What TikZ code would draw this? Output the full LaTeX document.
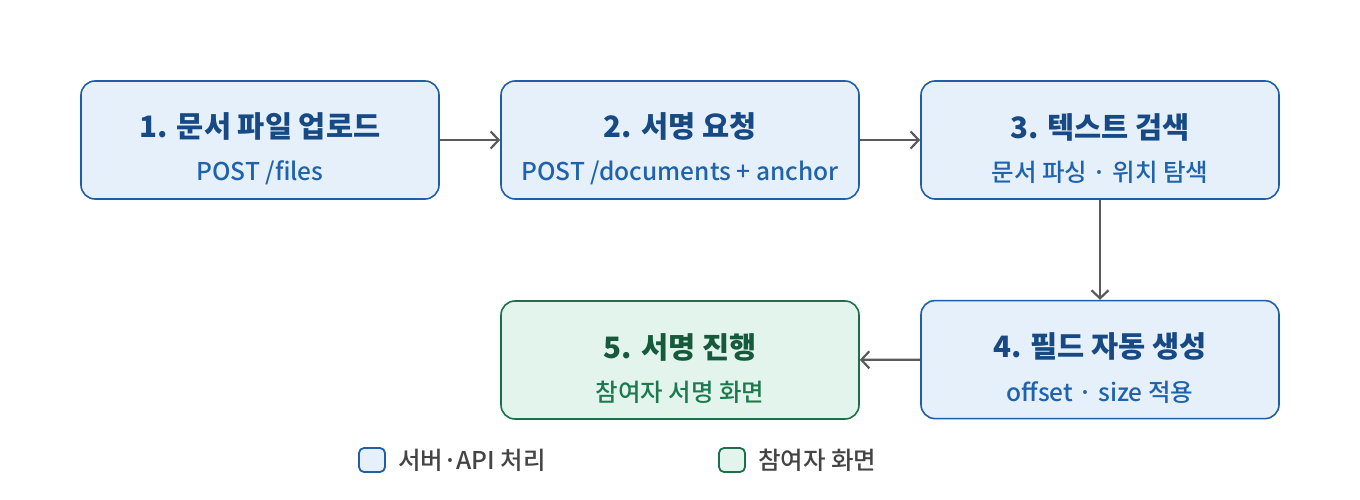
\documentclass[tikz,border=0pt]{standalone}
\usepackage{fontspec}
\setmainfont{Noto Sans CJK KR}
\newfontfamily\medfont{Noto Sans CJK KR Medium}
\usetikzlibrary{arrows.meta,positioning}

\definecolor{srvfill}{HTML}{E6F0FA}
\definecolor{srvline}{HTML}{1F5FA8}
\definecolor{srvtitle}{HTML}{174A85}
\definecolor{srvsub}{HTML}{1F63AD}
\definecolor{usrfill}{HTML}{E2F4EC}
\definecolor{usrline}{HTML}{1C6E4C}
\definecolor{usrtitle}{HTML}{155A3B}
\definecolor{usrsub}{HTML}{1D7A4E}
\definecolor{flowgray}{HTML}{5A5A5A}
\definecolor{legendtext}{HTML}{444444}

\tikzset{
  stepnode/.style={draw, rounded corners=14pt, line width=1.6pt,
    minimum width=358pt, minimum height=118pt, align=center, inner sep=0pt},
  srvnode/.style={stepnode, fill=srvfill, draw=srvline},
  usrnode/.style={stepnode, fill=usrfill, draw=usrline},
  flow/.style={draw=flowgray, line width=2.2pt,
    -{Straight Barb[length=8pt,width=17pt,line width=2.2pt]}},
  keybox/.style={draw, rounded corners=5pt, line width=1.8pt,
    minimum width=26pt, minimum height=24pt, inner sep=0pt},
  keytext/.style={anchor=west, inner sep=0pt, text=legendtext,
    font=\medfont\fontsize{24.5pt}{28pt}\selectfont}
}
\newcommand{\steptitle}[1]{{\fontsize{29.5pt}{34pt}\selectfont\bfseries\rule{0pt}{42pt}#1}}
\newcommand{\stepsub}[1]{{\medfont\fontsize{24.5pt}{28pt}\selectfont #1}}

\begin{document}
\begin{tikzpicture}[x=1pt,y=-1pt]
			%%%%% START %%%%%
			\useasboundingbox (0,0) rectangle (1360,500);
			
			\node[srvnode] (upload) at (260,140)
			  {\color{srvtitle}\steptitle{1. 문서 파일 업로드}\\[19pt]\color{srvsub}\stepsub{POST /files}};
			\node[srvnode] (request) at (680,140)
			  {\color{srvtitle}\steptitle{2. 서명 요청}\\[19pt]\color{srvsub}\stepsub{POST /documents + anchor}};
			\node[srvnode] (search) at (1100,140)
			  {\color{srvtitle}\steptitle{3. 텍스트 검색}\\[19pt]\color{srvsub}\stepsub{문서 파싱 · 위치 탐색}};
			\node[srvnode, below=100pt of search] (fields)
			  {\color{srvtitle}\steptitle{4. 필드 자동 생성}\\[19pt]\color{srvsub}\stepsub{offset · size 적용}};
			\node[usrnode] (signing) at (680,360)
			  {\color{usrtitle}\steptitle{5. 서명 진행}\\[19pt]\color{usrsub}\stepsub{참여자 서명 화면}};
			
			\draw[flow] (upload) -- (request);
			\draw[flow] (request) -- (search);
			\draw[flow] (search) -- (fields);
			\draw[flow] (fields) -- (signing);
			
			% legend
			\node[keybox, fill=srvfill, draw=srvline] (srvkey) at (372,460) {};
			\node[keytext, right=12pt of srvkey] (srvlabel) {서버·API 처리};
			\node[keybox, fill=usrfill, draw=usrline] (usrkey) at (732,460) {};
			\node[keytext, right=12pt of usrkey] (usrlabel) {참여자 화면};
			
			%%%%% END %%%%%
		\end{tikzpicture}
\end{document}
